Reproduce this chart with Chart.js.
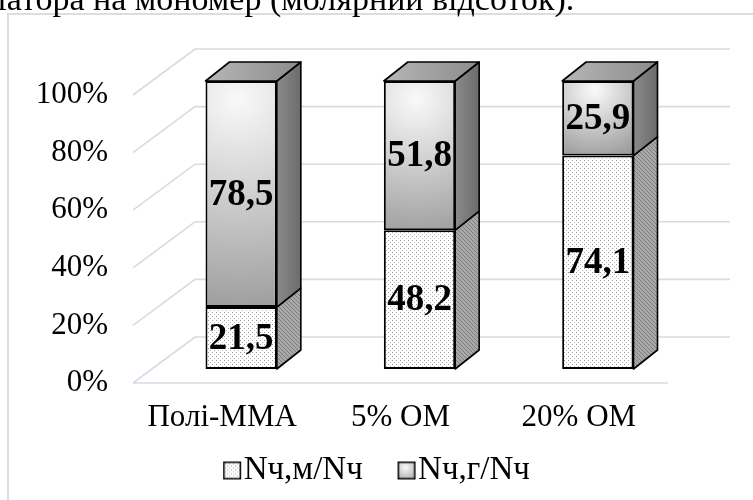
<!DOCTYPE html>
<html>
<head>
<meta charset="utf-8">
<script src="https://cdn.jsdelivr.net/npm/chart.js@4"></script>
<style>
  html, body { margin: 0; padding: 0; background: #fff; }
  #wrap { position: relative; width: 753px; height: 500px; overflow: hidden; }
  #frame { position: absolute; left: 7px; top: 13px; width: 800px; height: 600px;
           border-left: 2px solid #d9dde4; border-top: 2px solid #d9dde4; }
  canvas { position: absolute; left: 0; top: 0; }
</style>
</head>
<body>
<div id="wrap">
  <div id="frame"></div>
  <canvas id="c" width="753" height="500"></canvas>
</div>
<script>
// ---- data ----
const categories = ['Полі-ММА', '5% ОМ', '20% ОМ'];
const seriesNames = ['Nч,м/Nч', 'Nч,г/Nч'];
const shareM = [21.5, 48.2, 74.1];
const shareG = [78.5, 51.8, 25.9];
const tickStep = 20;
const axisMax = 100;
const captionLead = 'ініціатора ';
const captionRest = 'на мономер (молярний відсоток).';

// ---- 3D projection offsets (pixels) relative to the bar front plane ----
const BAR_FRACTION = 0.4;
const DEPTH = { dx: 24, dy: -19 };   // bar depth
const WALL_FRONT = { dx: -19, dy: 14 };
const WALL_BACK = { dx: 43, dy: -32 };
const SERIF = "'Liberation Serif', 'Times New Roman', serif";
const LEGEND_FONT = 33;
const LEGEND_PAD = 10;
const BOTTOM_PAD = 3;

const cvs = document.getElementById('c');
const ctx0 = cvs.getContext('2d');

function drawDots(g, w, h, bg, dot, dot2) {
  g.fillStyle = bg;
  g.fillRect(0, 0, w, h);
  for (let y = 0; y < h; y += 2) {
    for (let x = (y % 4 === 0 ? 0 : 2); x < w; x += 4) {
      g.fillStyle = (y % 4 === 0) ? dot : dot2;
      g.fillRect(x, y, 1, 1);
    }
  }
}

function makeDotPattern(bg, dot, dot2) {
  const c = document.createElement('canvas');
  c.width = c.height = 4;
  drawDots(c.getContext('2d'), 4, 4, bg, dot, dot2);
  return ctx0.createPattern(c, 'repeat');
}

function makeHatchPattern(bg, line) {
  const c = document.createElement('canvas');
  c.width = c.height = 4;
  const g = c.getContext('2d');
  g.fillStyle = bg;
  g.fillRect(0, 0, 4, 4);
  g.fillStyle = line;
  for (let i = 0; i < 4; i++) g.fillRect(i, i, 1, 1);
  return ctx0.createPattern(c, 'repeat');
}

const dottedFront = makeDotPattern('#ffffff', '#9c9c9c', '#b8b8b8');
const dottedSide = makeHatchPattern('#a9a9a9', '#7c7c7c');

// legend swatches: the square sits in the right part of the image so the
// text follows it closely
function legendSwatch(kind) {
  const c = document.createElement('canvas');
  c.width = 40; c.height = 20;
  const g = c.getContext('2d');
  const bx = 18, by = 1, bs = 18;
  if (kind === 0) {
    const t = document.createElement('canvas');
    t.width = t.height = bs;
    drawDots(t.getContext('2d'), bs, bs, '#ffffff', '#8c8c8c', '#a8a8a8');
    g.drawImage(t, bx, by);
  } else {
    const gr = g.createRadialGradient(bx + 8, by + 6, 1, bx + 8, by + 6, 14);
    gr.addColorStop(0, '#f4f4f4');
    gr.addColorStop(1, '#a8a8a8');
    g.fillStyle = gr;
    g.fillRect(bx, by, bs, bs);
  }
  g.strokeStyle = '#000';
  g.lineWidth = 1.5;
  g.strokeRect(bx + 0.75, by + 0.75, bs - 1.5, bs - 1.5);
  return c;
}
const swatches = [legendSwatch(0), legendSwatch(1)];

function barBounds(chart, i) {
  const { chartArea, scales } = chart;
  const cx = scales.x.getPixelForValue(i);
  const w = chartArea.width / categories.length * BAR_FRACTION;
  return {
    cx, w,
    top: scales.y.getPixelForValue(shareM[i] + shareG[i]),
    mid: scales.y.getPixelForValue(shareM[i]),
  };
}

function upperShade(context) {
  const chart = context.chart;
  if (!chart.chartArea || context.type !== 'data') return '#cfcfcf';
  const b = barBounds(chart, context.dataIndex);
  const h = b.mid - b.top;
  const fx = b.cx - b.w * 0.05;
  const fy = b.top + Math.min(h * 0.12, 18);
  const g = chart.ctx.createRadialGradient(fx, fy, 2, fx, fy, Math.max(b.w * 0.85, h * 0.95));
  g.addColorStop(0, '#f8f8f8');
  g.addColorStop(1, '#9c9c9c');
  return g;
}

const scene3d = {
  id: 'scene3d',
  beforeDatasetsDraw(chart) {
    const { ctx, chartArea: a, scales: { y } } = chart;
    ctx.save();
    ctx.strokeStyle = '#d6dbe5';
    ctx.lineWidth = 1.6;
    y.ticks.forEach(t => {
      const py = y.getPixelForValue(t.value);
      ctx.beginPath();
      ctx.moveTo(a.left + WALL_FRONT.dx, py + WALL_FRONT.dy);
      ctx.lineTo(a.left + WALL_BACK.dx, py + WALL_BACK.dy);
      ctx.lineTo(a.right + WALL_BACK.dx, py + WALL_BACK.dy);
      ctx.stroke();
    });
    const p0 = y.getPixelForValue(0);
    ctx.beginPath();
    ctx.moveTo(a.left + WALL_FRONT.dx, p0 + WALL_FRONT.dy);
    ctx.lineTo(a.right + WALL_FRONT.dx, p0 + WALL_FRONT.dy);
    ctx.stroke();
    ctx.restore();
  },
  afterDatasetsDraw(chart) {
    const { ctx } = chart;
    const last = chart.data.datasets.length - 1;
    ctx.save();
    ctx.strokeStyle = '#000';
    ctx.lineWidth = 1.6;
    ctx.lineJoin = 'round';
    chart.data.datasets.forEach((ds, di) => {
      const meta = chart.getDatasetMeta(di);
      meta.data.forEach((bar) => {
        const { x, y, base, width } = bar.getProps(['x', 'y', 'base', 'width'], true);
        const left = x - width / 2, right = x + width / 2;
        // side face
        ctx.beginPath();
        ctx.moveTo(right, y);
        ctx.lineTo(right + DEPTH.dx, y + DEPTH.dy);
        ctx.lineTo(right + DEPTH.dx, base + DEPTH.dy);
        ctx.lineTo(right, base);
        ctx.closePath();
        if (di === 0) {
          ctx.fillStyle = dottedSide;
        } else {
          const g = ctx.createLinearGradient(right, 0, right + DEPTH.dx, 0);
          g.addColorStop(0, '#8a8a8a');
          g.addColorStop(1, '#6c6c6c');
          ctx.fillStyle = g;
        }
        ctx.fill();
        ctx.stroke();
        // top face
        if (di === last) {
          ctx.beginPath();
          ctx.moveTo(left, y);
          ctx.lineTo(left + DEPTH.dx, y + DEPTH.dy);
          ctx.lineTo(right + DEPTH.dx, y + DEPTH.dy);
          ctx.lineTo(right, y);
          ctx.closePath();
          const g = ctx.createLinearGradient(left, 0, right + DEPTH.dx, 0);
          g.addColorStop(0, '#b6b6b6');
          g.addColorStop(1, '#8c8c8c');
          ctx.fillStyle = g;
          ctx.fill();
          ctx.stroke();
        }
      });
    });
    // value labels on the front faces
    ctx.fillStyle = '#000';
    ctx.font = 'bold 37px ' + SERIF;
    ctx.textAlign = 'center';
    ctx.textBaseline = 'middle';
    chart.data.datasets.forEach((ds, di) => {
      chart.getDatasetMeta(di).data.forEach((bar, i) => {
        const { x, y, base } = bar.getProps(['x', 'y', 'base'], true);
        const txt = ds.data[i].toFixed(1).replace('.', ',');
        ctx.fillText(txt, x, (y + base) / 2 + 1);
      });
    });
    ctx.restore();
  },
  afterDraw(chart) {
    const { ctx } = chart;
    ctx.save();
    ctx.fillStyle = '#000';
    ctx.font = '34px ' + SERIF;
    ctx.textAlign = 'left';
    ctx.textBaseline = 'alphabetic';
    const x0 = 93 - ctx.measureText(captionLead).width;
    ctx.fillText(captionLead + captionRest, x0, 10);
    ctx.restore();
  }
};

const legendHeight = LEGEND_FONT + 2 * LEGEND_PAD;

new Chart(cvs, {
  type: 'bar',
  data: {
    labels: categories,
    datasets: [
      {
        label: seriesNames[0],
        data: shareM,
        backgroundColor: dottedFront,
        borderColor: '#000',
        borderWidth: 2,
        borderSkipped: false,
      },
      {
        label: seriesNames[1],
        data: shareG,
        backgroundColor: upperShade,
        borderColor: '#000',
        borderWidth: 2,
        borderSkipped: false,
      }
    ]
  },
  plugins: [scene3d],
  options: {
    responsive: false,
    animation: false,
    devicePixelRatio: 1,
    layout: { padding: { top: 81, bottom: BOTTOM_PAD, left: 0, right: 0 } },
    datasets: { bar: { categoryPercentage: 1, barPercentage: BAR_FRACTION } },
    plugins: {
      tooltip: { enabled: false },
      legend: {
        position: 'bottom',
        labels: {
          usePointStyle: true,
          pointStyleWidth: 4,
          padding: LEGEND_PAD,
          color: '#000',
          font: { family: SERIF, size: LEGEND_FONT },
          // the first entry carries trailing spaces to widen the gap between entries
          generateLabels: () => seriesNames.map((name, i) => ({
            text: i === 0 ? name + '\u00a0\u00a0\u00a0' : name,
            pointStyle: swatches[i],
            fillStyle: '#fff',
            strokeStyle: '#000',
            lineWidth: 0,
            hidden: false,
            datasetIndex: i,
          })),
        },
      },
    },
    scales: {
      x: {
        stacked: true,
        grid: { display: false, drawTicks: false },
        border: { display: false },
        ticks: { color: '#000', font: { family: SERIF, size: 31 }, padding: 30, labelOffset: WALL_FRONT.dx },
        afterFit(s) { s.height = 500 - BOTTOM_PAD - legendHeight - 369; },
      },
      y: {
        stacked: true,
        min: 0,
        max: axisMax,
        grid: { display: false, drawTicks: false },
        border: { display: false },
        ticks: {
          stepSize: tickStep,
          color: '#000',
          font: { family: SERIF, size: 31 },
          padding: 44,
          labelOffset: WALL_FRONT.dy,
          callback: v => v + '%',
        },
        afterFit(s) { s.width = 152; },
      },
      yRight: {
        position: 'right',
        display: true,
        grid: { display: false, drawTicks: false },
        border: { display: false },
        ticks: { display: false },
        afterFit(s) { s.width = 66; },
      },
    },
  },
});
</script>
</body>
</html>
